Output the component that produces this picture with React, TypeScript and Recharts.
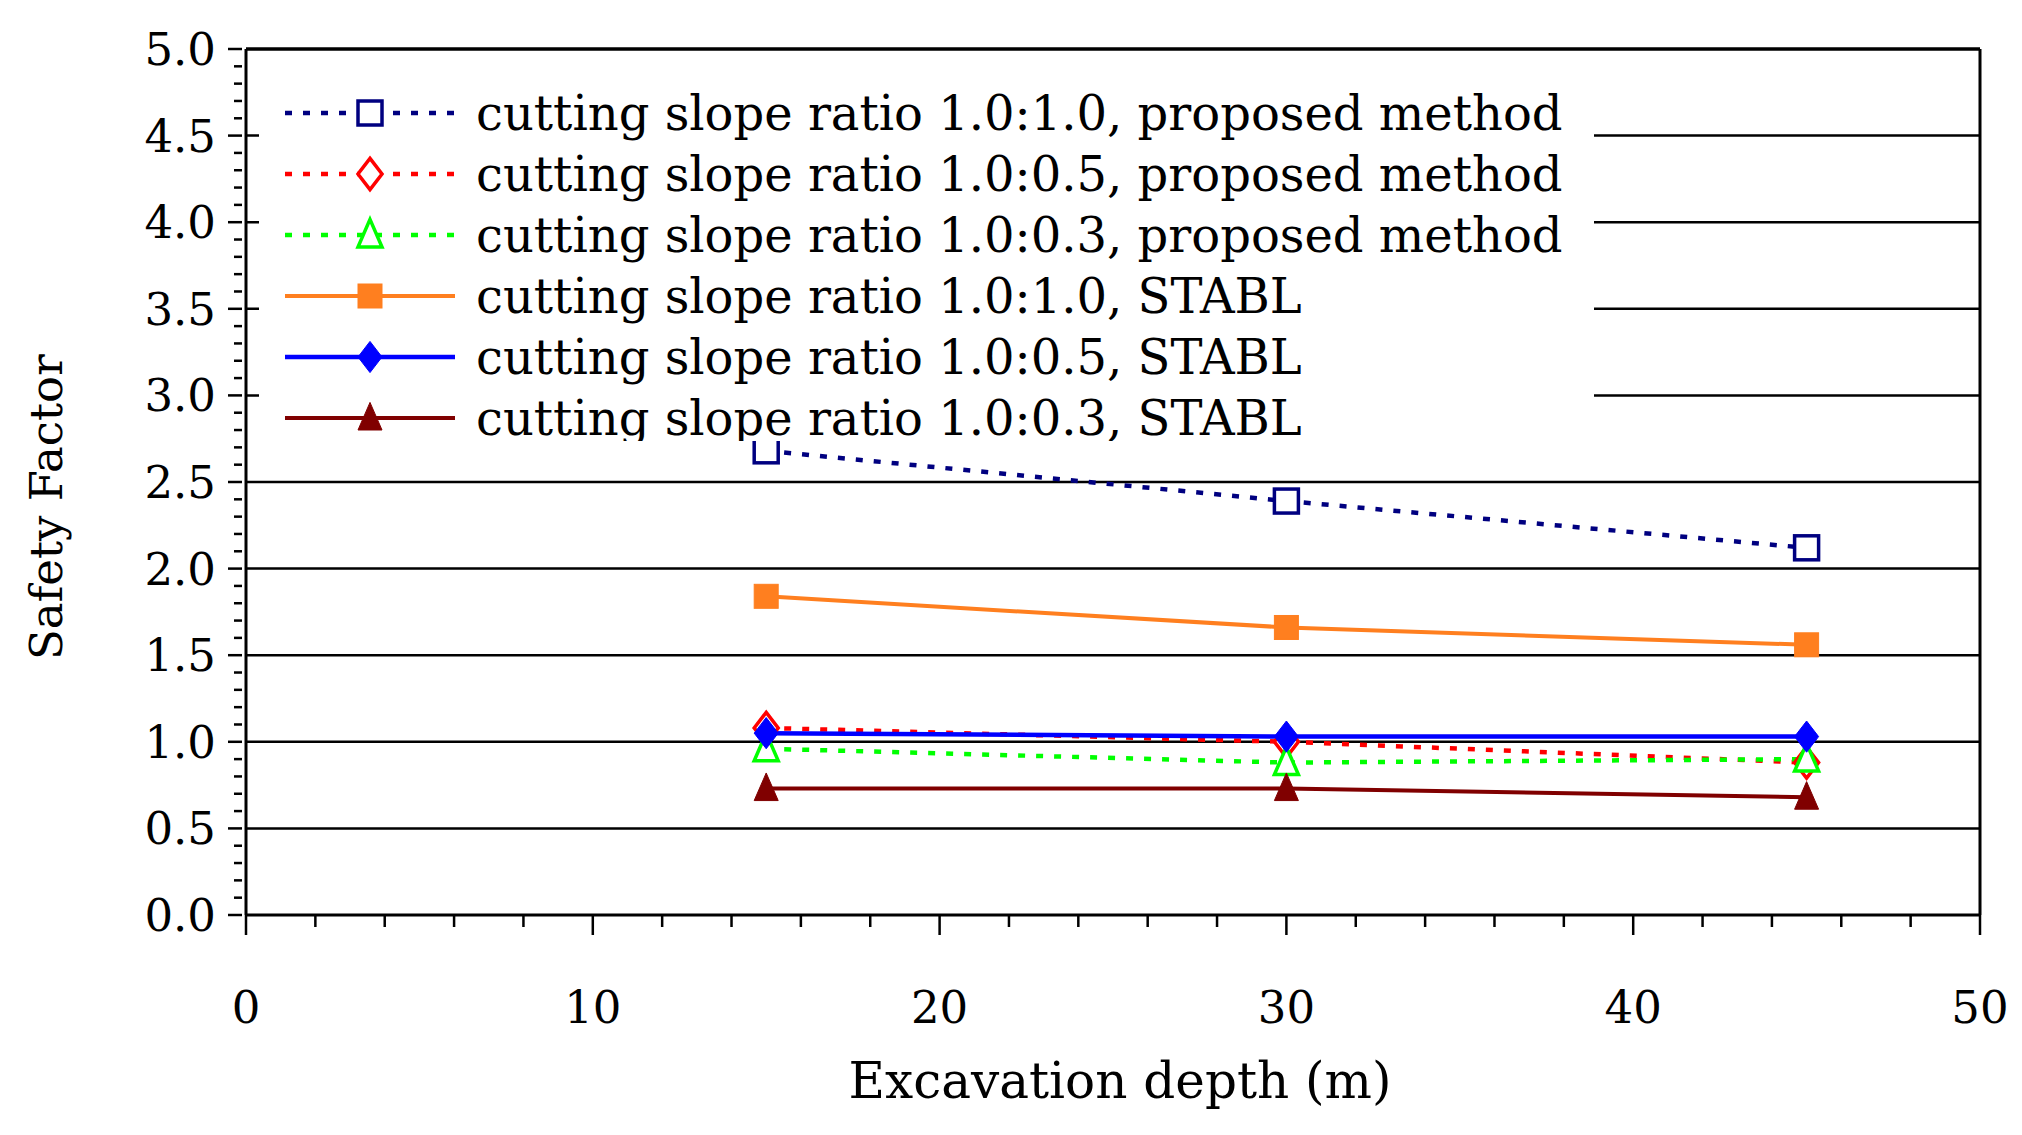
import React from "react";
import { LineChart, Line, XAxis, YAxis, ReferenceLine } from "recharts";

const depths = [15, 30, 45];
const propA = [2.68, 2.39, 2.12];
const propB = [1.08, 1.0, 0.88];
const propC = [0.96, 0.88, 0.9];
const stablA = [1.84, 1.66, 1.56];
const stablB = [1.05, 1.03, 1.03];
const stablC = [0.73, 0.73, 0.68];
const yMajor = [0, 0.5, 1, 1.5, 2, 2.5, 3, 3.5, 4, 4.5, 5];
const yTicks = Array.from({ length: 51 }, (_, i) => Math.round(i) / 10);
const xTicks = Array.from({ length: 26 }, (_, i) => i * 2);
const xMajor = [0, 10, 20, 30, 40, 50];

const data = depths.map((d, i) => ({ d, pa: propA[i], pb: propB[i], pc: propC[i], sa: stablA[i], sb: stablB[i], sc: stablC[i] }));

const FONT = "'DejaVu Serif', serif";

type Shape = "square" | "diamond" | "triangle";
const marker = (shape: Shape, color: string, filled: boolean, cx: number, cy: number, s: number, key?: any) => {
  const fill = filled ? color : "white";
  const sw = filled ? 1 : 3.5;
  if (shape === "square") return <rect key={key} x={cx - s} y={cy - s} width={2 * s} height={2 * s} fill={fill} stroke={color} strokeWidth={sw} />;
  if (shape === "diamond") return <polygon key={key} points={`${cx},${cy - s * 1.3} ${cx + s},${cy} ${cx},${cy + s * 1.3} ${cx - s},${cy}`} fill={fill} stroke={color} strokeWidth={sw} />;
  return <polygon key={key} points={`${cx},${cy - s * 1.3} ${cx + s},${cy + s} ${cx - s},${cy + s}`} fill={fill} stroke={color} strokeWidth={sw} />;
};

const series = [
  { key: "pa", color: "#000080", dash: "7 11", shape: "square" as Shape, filled: false, w: 4.5, label: "cutting slope ratio 1.0:1.0, proposed method" },
  { key: "pb", color: "#ff0000", dash: "7 11", shape: "diamond" as Shape, filled: false, w: 4.5, label: "cutting slope ratio 1.0:0.5, proposed method" },
  { key: "pc", color: "#00ff00", dash: "7 11", shape: "triangle" as Shape, filled: false, w: 4.5, label: "cutting slope ratio 1.0:0.3, proposed method" },
  { key: "sa", color: "#ff7f1f", dash: undefined, shape: "square" as Shape, filled: true, w: 4, label: "cutting slope ratio 1.0:1.0, STABL" },
  { key: "sb", color: "#0000ff", dash: undefined, shape: "diamond" as Shape, filled: true, w: 4.5, label: "cutting slope ratio 1.0:0.5, STABL" },
  { key: "sc", color: "#800000", dash: undefined, shape: "triangle" as Shape, filled: true, w: 4, label: "cutting slope ratio 1.0:0.3, STABL" },
];

const YTick = (p: any) => {
  const v = p.payload.value;
  const major = yMajor.some((m) => Math.abs(m - v) < 1e-6);
  return (
    <g>
      <line x1={p.x + 4} x2={p.x + 4 - (major ? 14 : 8)} y1={p.y} y2={p.y} stroke="#000" strokeWidth={2.5} />
      {major && (
        <text x={p.x - 22} y={p.y + 16} textAnchor="end" fontSize={45} fontFamily={FONT} fill="#000">
          {v.toFixed(1)}
        </text>
      )}
    </g>
  );
};

const XTick = (p: any) => {
  const v = p.payload.value;
  const major = xMajor.includes(v);
  return (
    <g>
      <line x1={p.x} x2={p.x} y1={p.y - 8} y2={p.y - 8 + (major ? 20 : 12)} stroke="#000" strokeWidth={2.5} />
      {major && (
        <text x={p.x} y={p.y + 100} textAnchor="middle" fontSize={45} fontFamily={FONT} fill="#000">
          {v}
        </text>
      )}
    </g>
  );
};

export default function App() {
  return (
    <div style={{ position: "absolute", left: 0, top: 0, width: 2022, height: 1135, background: "#fff" }}>
      <LineChart width={2022} height={1135} data={data} margin={{ top: 49, right: 42, bottom: 0, left: 96 }}>
        <XAxis dataKey="d" type="number" domain={[0, 50]} ticks={xTicks} interval={0} tick={<XTick />} tickLine={false} height={220} axisLine={{ stroke: "#000", strokeWidth: 3 }} />
        <YAxis type="number" domain={[0, 5]} ticks={yTicks} interval={0} tick={<YTick />} tickLine={false} width={150} axisLine={{ stroke: "#000", strokeWidth: 3 }} />
        {yMajor.slice(1).map((v) => (
          <ReferenceLine key={v} y={v} stroke="#000" strokeWidth={v === 5 ? 3.5 : 2.5} />
        ))}
        <ReferenceLine x={50} stroke="#000" strokeWidth={3} />
        {series.map((s) => (
          <Line
            key={s.key}
            dataKey={s.key}
            stroke={s.color}
            strokeWidth={s.w}
            strokeDasharray={s.dash}
            isAnimationActive={false}
            dot={(p: any) => marker(s.shape, s.color, s.filled, p.cx, p.cy, 12, p.index)}
            activeDot={false}
          />
        ))}
      </LineChart>
      <div style={{ position: "absolute", left: 259, top: 65, width: 1335, height: 376, background: "#fff", overflow: "hidden" }}>
        {series.map((s, i) => (
          <div key={s.key} style={{ position: "absolute", left: 0, top: 18 + i * 61, height: 60, display: "flex", alignItems: "center" }}>
            <svg width={210} height={60}>
              <line x1={26} x2={196} y1={30} y2={30} stroke={s.color} strokeWidth={s.w} strokeDasharray={s.dash} />
              {marker(s.shape, s.color, s.filled, 111, 30, 12)}
            </svg>
            <span style={{ fontFamily: FONT, fontSize: 48, whiteSpace: "nowrap", marginLeft: 7, color: "#000" }}>{s.label}</span>
          </div>
        ))}
      </div>
      <div style={{ position: "absolute", left: 30, top: 490, transform: "rotate(-90deg)", transformOrigin: "0 0", fontFamily: FONT, fontSize: 45, whiteSpace: "nowrap" }}>
        <span style={{ position: "absolute", left: -170, top: -10 }}>Safety Factor</span>
      </div>
      <div style={{ position: "absolute", left: 0, width: 2240, top: 1052, textAlign: "center", fontFamily: FONT, fontSize: 50 }}>
        Excavation depth (m)
      </div>
    </div>
  );
}
